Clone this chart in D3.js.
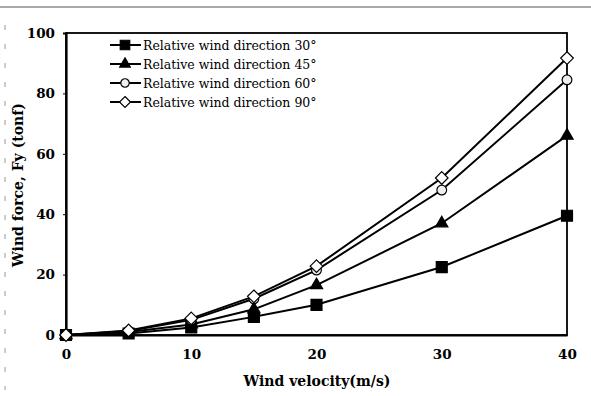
<!DOCTYPE html>
<html>
<script src="https://cdn.jsdelivr.net/npm/d3@7"></script>
<style>
body { margin: 0; background: #fff; }
text { font-family: "DejaVu Serif", "Liberation Serif", serif; }
</style>
<body>
<svg width="591" height="396"></svg>
<script>
// wind velocity (m/s)
var velocity = [0, 5, 10, 15, 20, 30, 40];
// wind force Fy (tonf) per relative wind direction
var dir30 = [0, 0.5, 2.5, 6, 10, 22.5, 39.5];
var dir45 = [0, 1, 3.5, 8.5, 16.5, 37, 66];
var dir60 = [0, 1.3, 5, 12, 21.5, 48, 84.5];
var dir90 = [0, 1.5, 5.5, 12.8, 22.8, 52, 91.7];
var seriesNames = ["Relative wind direction 30\u00b0", "Relative wind direction 45\u00b0",
                   "Relative wind direction 60\u00b0", "Relative wind direction 90\u00b0"];
var xTicks = [0, 10, 20, 30, 40];
var yTicks = [0, 20, 40, 60, 80, 100];

// square turned 45 degrees, the open diamond marker
var squareDiamond = {
  draw: function(ctx, size) {
    var r = Math.sqrt(size / 2);
    ctx.moveTo(0, -r); ctx.lineTo(r, 0); ctx.lineTo(0, r); ctx.lineTo(-r, 0); ctx.closePath();
  }
};

var series = [
  {name: seriesNames[0], vals: dir30, sym: d3.symbolSquare, size: 120, fill: "#000"},
  {name: seriesNames[1], vals: dir45, sym: d3.symbolTriangle, size: 65, fill: "#000"},
  {name: seriesNames[2], vals: dir60, sym: d3.symbolCircle, size: 75, fill: "#eee"},
  {name: seriesNames[3], vals: dir90, sym: squareDiamond, size: 80, fill: "#fff"}
];

var svg = d3.select("svg"),
    L = 66, R = 567, T = 33, B = 335;

var x = d3.scaleLinear().domain([0, 40]).range([L, R]),
    y = d3.scaleLinear().domain([0, 100]).range([B, T]);

// scan artefacts: top rule and dashed left edge
svg.append("line").attr("x1", 0).attr("x2", 591).attr("y1", 7).attr("y2", 7)
   .style("stroke", "#555").style("stroke-width", 1.2);
svg.append("line").attr("x1", 5).attr("x2", 5).attr("y1", 25).attr("y2", 390)
   .style("stroke", "#999").style("stroke-width", 1).style("stroke-dasharray", "5,14");

// frame
svg.append("rect").attr("x", L).attr("y", T).attr("width", R - L).attr("height", B - T)
   .style("fill", "none").style("stroke", "#000").style("stroke-width", 1.8);

var yAxis = svg.append("g").attr("transform", "translate(" + L + ",0)")
   .call(d3.axisLeft(y).tickValues(yTicks).tickSize(3).tickPadding(8));
var xAxis = svg.append("g").attr("transform", "translate(0," + B + ")")
   .call(d3.axisBottom(x).tickValues(xTicks).tickSize(0).tickPadding(14));
[xAxis, yAxis].forEach(function(a) {
  a.select(".domain").style("stroke", "#000").style("stroke-width", 2.2);
  a.selectAll("text").style("font-family", "DejaVu Serif").style("font-size", "13.5px")
   .style("font-weight", "bold").style("fill", "#000");
});

var line = d3.line().x(function(d, i) { return x(velocity[i]); }).y(function(d) { return y(d); });

series.forEach(function(s) {
  svg.append("path").datum(s.vals).attr("d", line)
     .style("fill", "none").style("stroke", "#000").style("stroke-width", 2);
});
series.forEach(function(s) {
  svg.selectAll(null).data(s.vals).enter().append("path")
     .attr("transform", function(d, i) { return "translate(" + x(velocity[i]) + "," + y(d) + ")"; })
     .attr("d", d3.symbol().type(s.sym).size(s.size))
     .style("fill", s.fill).style("stroke", "#000").style("stroke-width", 1.2);
});

// legend
var leg = svg.append("g");
series.forEach(function(s, i) {
  var ly = 45 + i * 19;
  leg.append("line").attr("x1", 110).attr("x2", 141).attr("y1", ly).attr("y2", ly)
     .style("stroke", "#000").style("stroke-width", 2);
  leg.append("path").attr("transform", "translate(125," + ly + ")")
     .attr("d", d3.symbol().type(s.sym).size(s.size * 0.75))
     .style("fill", s.fill).style("stroke", "#000").style("stroke-width", 1.2);
  leg.append("text").attr("x", 143).attr("y", ly + 4.5).text(s.name)
     .style("font-family", "DejaVu Serif").style("font-size", "12.5px").style("fill", "#000");
});

// axis titles
svg.append("text").attr("x", 317).attr("y", 386).attr("text-anchor", "middle")
   .style("font-family", "DejaVu Serif").style("font-size", "14px").style("font-weight", "bold")
   .text("Wind velocity(m/s)");
svg.append("text").attr("transform", "translate(23,185) rotate(-90)").attr("text-anchor", "middle")
   .style("font-family", "DejaVu Serif").style("font-size", "14px").style("font-weight", "bold")
   .text("Wind force, Fy (tonf)");
</script>
</body>
</html>
